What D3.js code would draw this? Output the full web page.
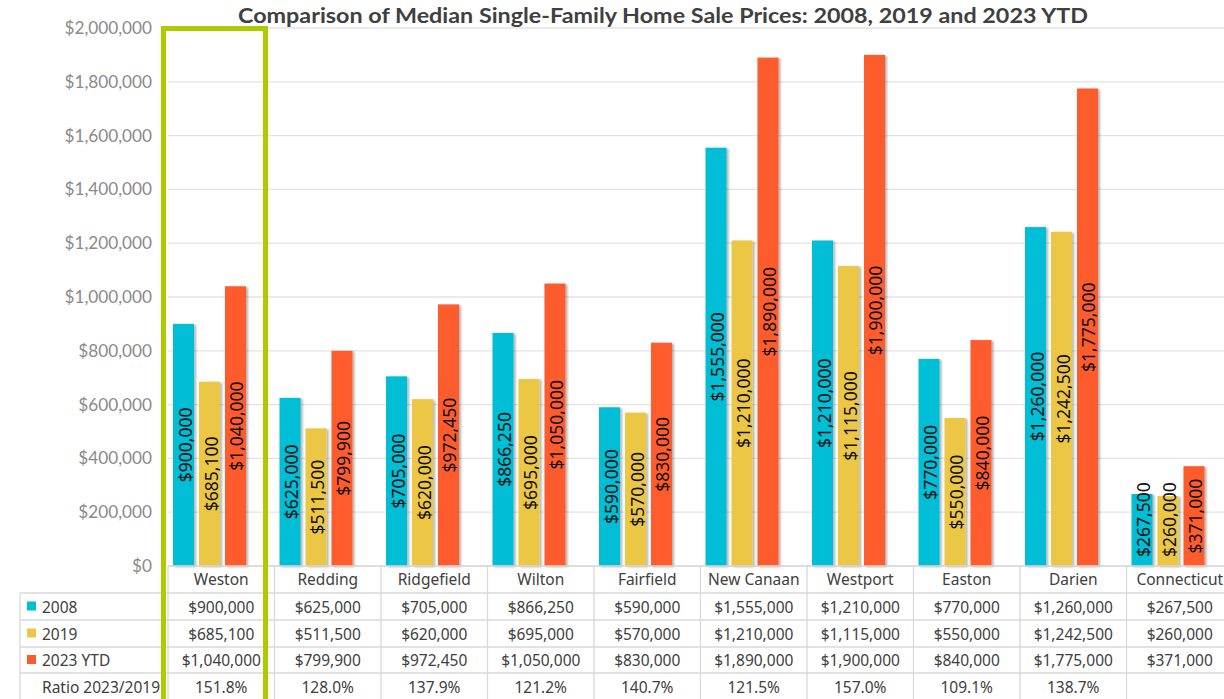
<!DOCTYPE html>
<html>
<head>
<meta charset="utf-8">
<script src="https://cdn.jsdelivr.net/npm/d3@7"></script>
<style>
  body { margin: 0; background: #fff; overflow: hidden; }
  svg { display: block; }
</style>
</head>
<body>
<svg id="chart"></svg>
<script>
const width = 1224
const height = 699

const towns = ['Weston', 'Redding', 'Ridgefield', 'Wilton', 'Fairfield', 'New Canaan', 'Westport', 'Easton', 'Darien', 'Connecticut']
const seriesNames = ['2008', '2019', '2023 YTD']
const prices2008 = [900000, 625000, 705000, 866250, 590000, 1555000, 1210000, 770000, 1260000, 267500]
const prices2019 = [685100, 511500, 620000, 695000, 570000, 1210000, 1115000, 550000, 1242500, 260000]
const prices2023 = [1040000, 799900, 972450, 1050000, 830000, 1890000, 1900000, 840000, 1775000, 371000]
const ratioLabels = ['151.8%', '128.0%', '137.9%', '121.2%', '140.7%', '121.5%', '157.0%', '109.1%', '138.7%', '']
const yTicks = [0, 200000, 400000, 600000, 800000, 1000000, 1200000, 1400000, 1600000, 1800000, 2000000]
const colors = ['#00bed5', '#ebc744', '#ff5c2e']

const seriesValues = [prices2008, prices2019, prices2023]
const rows = towns.map((t, i) => ({ town: t, values: seriesValues.map(s => s[i]) }))

const fmt = d3.format('$,')

const svg = d3.select('#chart').attr('width', width).attr('height', height)

const defs = svg.append('defs')
defs.append('filter').attr('id', 'shadow')
  .attr('x', '-20%').attr('y', '-5%').attr('width', '160%').attr('height', '110%')
  .append('feDropShadow')
  .attr('dx', 2).attr('dy', 1).attr('stdDeviation', 1)
  .attr('flood-color', '#000').attr('flood-opacity', 0.3)

const x = d3.scaleBand().domain(towns).range([168, 1233])
const xSub = d3.scaleBand().domain(seriesNames).range([5, 78]).paddingInner(0.19)
const y = d3.scaleLinear().domain([0, 2000000]).range([566, 28])

// gridlines
svg.append('g').attr('class', 'grid')
  .selectAll('line').data(yTicks).enter().append('line')
  .attr('x1', 168).attr('x2', width)
  .attr('y1', d => y(d)).attr('y2', d => y(d))
  .attr('stroke', '#e3e3e3').attr('stroke-width', 1.3)

// y axis
const yAxis = d3.axisLeft(y).tickValues(yTicks).tickFormat(fmt).tickSize(0).tickPadding(0)
const yg = svg.append('g').attr('transform', 'translate(152,0)').call(yAxis)
yg.select('.domain').remove()
yg.selectAll('text')
  .attr('font-family', 'Lato, "Open Sans", sans-serif')
  .attr('font-size', 17.2).attr('fill', '#8a8a8a')

// title
svg.append('text')
  .attr('x', 238).attr('y', 23)
  .attr('font-family', 'Lato, "Open Sans", sans-serif')
  .attr('font-weight', 'bold').attr('font-size', 21)
  .attr('textLength', 850).attr('lengthAdjust', 'spacingAndGlyphs')
  .attr('fill', '#404040')
  .text('Comparison of Median Single-Family Home Sale Prices: 2008, 2019 and 2023 YTD')

// bars
const groups = svg.append('g').attr('class', 'bars')
  .selectAll('g').data(rows).enter().append('g')
  .attr('transform', d => `translate(${x(d.town)},0)`)

const bars = groups.selectAll('g').data(d => d.values.map((v, i) => ({ key: seriesNames[i], value: v, i })))
  .enter().append('g')

bars.append('rect')
  .attr('x', d => xSub(d.key))
  .attr('width', xSub.bandwidth())
  .attr('y', d => y(d.value))
  .attr('height', d => y(0) - y(d.value))
  .attr('fill', d => colors[d.i])
  .attr('filter', 'url(#shadow)')

bars.append('text')
  .attr('font-family', '"Noto Sans", "Open Sans", sans-serif')
  .attr('font-size', 17.5).attr('fill', '#111')
  .attr('text-anchor', 'middle')
  .attr('dominant-baseline', 'central')
  .text(d => fmt(d.value))
  .each(function (d) {
    const len = this.getComputedTextLength()
    let cy = (y(d.value) + y(0)) / 2
    cy = Math.min(cy, y(0) - 9 - len / 2)
    const cx = xSub(d.key) + xSub.bandwidth() / 2 + 1
    d3.select(this).attr('transform', `translate(${cx},${cy}) rotate(-90)`)
  })

// data table
const table = svg.append('g').attr('class', 'table')
const rowTops = [566, 593, 620, 647, 673, 700]
const lineColor = '#d9d9d9'

table.append('line').attr('x1', 168).attr('x2', width).attr('y1', 566).attr('y2', 566)
  .attr('stroke', lineColor).attr('stroke-width', 1.3)
rowTops.slice(1, 5).forEach(yy => {
  table.append('line').attr('x1', 20).attr('x2', width).attr('y1', yy).attr('y2', yy)
    .attr('stroke', lineColor).attr('stroke-width', 1.3)
})
table.append('line').attr('x1', 20).attr('x2', 20).attr('y1', 593).attr('y2', height)
  .attr('stroke', lineColor).attr('stroke-width', 1.3)
towns.forEach(t => {
  const xx = x(t)
  table.append('line').attr('x1', xx).attr('x2', xx).attr('y1', 566).attr('y2', height)
    .attr('stroke', lineColor).attr('stroke-width', 1.3)
})

const tableFont = '"Noto Sans", "Open Sans", sans-serif'
const textColor = '#404040'
const tableSize = 15.5

// header row
table.selectAll('.head').data(towns).enter().append('text')
  .attr('class', 'head')
  .attr('x', d => x(d) + x.bandwidth() / 2)
  .attr('y', 579)
  .attr('text-anchor', 'middle').attr('dominant-baseline', 'central')
  .attr('font-family', tableFont).attr('font-size', tableSize).attr('fill', textColor)
  .text(d => d)

// value rows
seriesValues.forEach((vals, si) => {
  const cy = (rowTops[si + 1] + rowTops[si + 2]) / 2
  table.append('rect').attr('x', 27).attr('y', cy - 5).attr('width', 9).attr('height', 9)
    .attr('fill', colors[si])
  table.append('text').attr('x', 42).attr('y', cy)
    .attr('dominant-baseline', 'central')
    .attr('font-family', tableFont).attr('font-size', tableSize).attr('fill', textColor)
    .text(seriesNames[si])
  table.selectAll(null).data(vals).enter().append('text')
    .attr('x', (d, i) => x(towns[i]) + x.bandwidth() / 2)
    .attr('y', cy)
    .attr('text-anchor', 'middle').attr('dominant-baseline', 'central')
    .attr('font-family', tableFont).attr('font-size', tableSize).attr('fill', textColor)
    .text(d => fmt(d))
})

// ratio row
const ratioY = (rowTops[4] + rowTops[5]) / 2
table.append('text').attr('x', 42).attr('y', ratioY)
  .attr('dominant-baseline', 'central')
  .attr('font-family', tableFont).attr('font-size', tableSize).attr('fill', textColor)
  .text('Ratio 2023/2019')
table.selectAll('.ratio').data(ratioLabels).enter().append('text')
  .attr('class', 'ratio')
  .attr('x', (d, i) => x(towns[i]) + x.bandwidth() / 2)
  .attr('y', ratioY)
  .attr('text-anchor', 'middle').attr('dominant-baseline', 'central')
  .attr('font-family', tableFont).attr('font-size', tableSize).attr('fill', textColor)
  .text(d => d)

// highlight box around Weston
svg.append('rect')
  .attr('x', 163.5).attr('y', 28.5)
  .attr('width', 102).attr('height', 700)
  .attr('fill', 'none')
  .attr('stroke', '#aecb00').attr('stroke-width', 5)
</script>
</body>
</html>
